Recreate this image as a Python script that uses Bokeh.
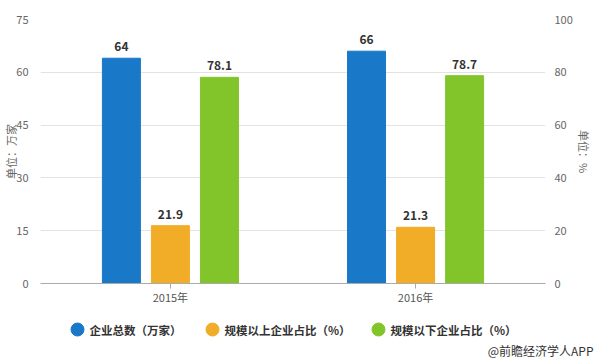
import math
from bokeh.plotting import figure
from bokeh.layouts import column
from bokeh.models import (ColumnDataSource, FactorRange, Range1d, LinearAxis,
                          FixedTicker)
from bokeh.transform import dodge
from bokeh.core.properties import value
from bokeh.embed import file_html
from bokeh.resources import INLINE

# ---- data ----
years = ["2015年", "2016年"]
total = [64, 66]            # 企业总数（万家）  left axis
above = [21.9, 21.3]        # 规模以上企业占比（%） right axis
below = [78.1, 78.7]        # 规模以下企业占比（%） right axis
left_ticks = [0, 15, 30, 45, 60, 75]
right_ticks = [0, 20, 40, 60, 80, 100]
series_names = ["企业总数（万家）", "规模以上企业占比（%）", "规模以下企业占比（%）"]
colors = ["#1A78C8", "#F1AC28", "#82C52B"]
left_label = "单位：万家"
right_label = "单位：%"
source_text = "@前瞻经济学人APP"

FONT = "Noto Sans CJK SC"

src = ColumnDataSource(dict(
    year=years, total=total, above=above, below=below,
    total_t=[str(v) for v in total],
    above_t=[f"{v:.1f}" for v in above],
    below_t=[f"{v:.1f}" for v in below],
))

xr = FactorRange(factors=years, range_padding=0.03, range_padding_units="absolute")
p = figure(x_range=xr, y_range=Range1d(0, 75), width=600, height=307,
           output_backend="svg", toolbar_location=None,
           min_border_left=40, min_border_right=55, min_border_top=19,
           min_border_bottom=22, outline_line_color=None,
           background_fill_color="white", border_fill_color="white")
p.frame_align = False
p.extra_y_ranges = {"right": Range1d(0, 100)}

bw = 0.155
offs = [-0.2, 0.0, 0.2]
cols = ["total", "above", "below"]
ranges = ["default", "right", "right"]
for off, col, c, rn in zip(offs, cols, colors, ranges):
    p.vbar(x=dodge("year", off, range=xr), top=col, width=bw, source=src,
           fill_color=c, line_color=c, y_range_name=rn)
    p.text(x=dodge("year", off, range=xr), y=col, text=col + "_t", source=src,
           y_range_name=rn, y_offset=-7, text_align="center", text_baseline="bottom",
           text_font=value(FONT), text_font_size="12px", text_font_style="bold",
           text_color="#333333")

# axes
ly = p.yaxis[0]
ly.ticker = FixedTicker(ticks=left_ticks)
ly.axis_line_color = None
ly.major_tick_line_color = None
ly.minor_tick_line_color = None
ly.major_label_standoff = 6
ly.major_label_text_font = FONT
ly.major_label_text_font_size = "11px"
ly.major_label_text_color = "#666666"
ly.axis_label = left_label
ly.axis_label_standoff = -6
ly.axis_label_text_font = FONT
ly.axis_label_text_font_size = "11px"
ly.axis_label_text_font_style = "normal"
ly.axis_label_text_color = "#666666"

ry = LinearAxis(y_range_name="right", ticker=FixedTicker(ticks=right_ticks))
ry.axis_line_color = None
ry.major_tick_line_color = None
ry.minor_tick_line_color = None
ry.major_label_standoff = 3
ry.major_label_text_font = FONT
ry.major_label_text_font_size = "11px"
ry.major_label_text_color = "#666666"
ry.axis_label = right_label
ry.axis_label_standoff = 0
ry.axis_label_text_font = FONT
ry.axis_label_text_font_size = "11px"
ry.axis_label_text_font_style = "normal"
ry.axis_label_text_color = "#666666"
p.add_layout(ry, "right")

xa = p.xaxis[0]
xa.axis_line_color = "#aaaaaa"
xa.major_tick_line_color = "#aaaaaa"
xa.major_tick_in = 0
xa.major_tick_out = 5
xa.major_label_standoff = 0
xa.major_label_text_font = FONT
xa.major_label_text_font_size = "11px"
xa.major_label_text_color = "#555555"

p.xgrid.grid_line_color = None
p.ygrid.grid_line_color = "#e3e3e3"

# ---- legend / source strip (pixel coordinates of the strip) ----
leg_x = [77, 212, 378]      # layout: circle centres
leg_y = 22
lg = figure(width=600, height=55, x_range=Range1d(0, 600), y_range=Range1d(55, 0),
            output_backend="svg", toolbar_location=None,
            x_axis_location=None, y_axis_location=None,
            min_border=0, min_border_left=0, min_border_right=0,
            min_border_top=0, min_border_bottom=0, outline_line_color=None,
            background_fill_color="white", border_fill_color="white")
lg.frame_align = False
lg.xgrid.visible = False
lg.ygrid.visible = False
lsrc = ColumnDataSource(dict(x=leg_x, tx=[x + 12 for x in leg_x],
                             y=[leg_y] * 3, name=series_names, color=colors))
lg.scatter(x="x", y="y", marker="circle", size=13, fill_color="color",
           line_color="color", source=lsrc)
lg.text(x="tx", y="y", text="name", source=lsrc, text_align="left",
        text_baseline="middle", text_font=value(FONT), text_font_size="11.5px",
        text_font_style="bold", text_color="#333333")
lg.text(x=[593], y=[43], text=[source_text], text_align="right",
        text_baseline="middle", text_font=value(FONT), text_font_size="12px",
        text_color="#333333")

layout = column(p, lg, spacing=0)
open("out.html", "w").write(file_html(layout, INLINE))
